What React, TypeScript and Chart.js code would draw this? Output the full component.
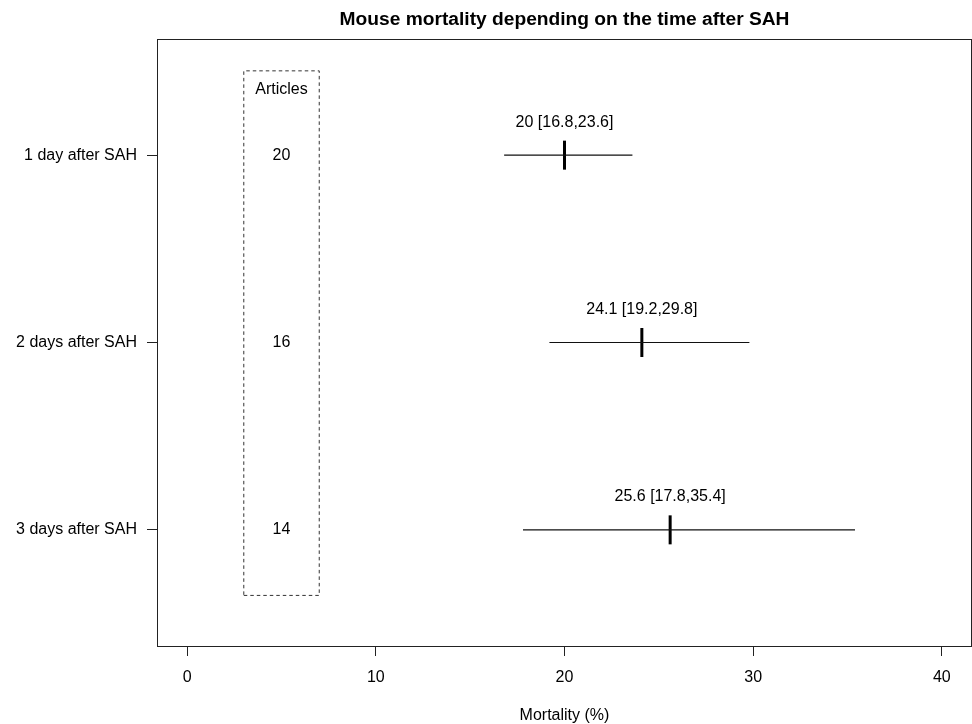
import React, { useEffect, useRef } from "react";
import { Chart, registerables } from "chart.js";

Chart.register(...registerables);

const categories = ["1 day after SAH", "2 days after SAH", "3 days after SAH"];
const estimates = [20, 24.1, 25.6];
const lowerCI = [16.8, 19.2, 17.8];
const upperCI = [23.6, 29.8, 35.4];
const articleCounts = [20, 16, 14];
const xTicks = [0, 10, 20, 30, 40];
const rowValues = [3, 2, 1];

const boxLeft = 3;
const boxRight = 7;
const boxBottom = 0.65;
const boxTop = 3.45;
const articlesHeaderY = 3.35;
const labelOffset = 0.175;

const FONT = "'Liberation Sans', Arial, Helvetica, sans-serif";
const BASE = 16;

export default function App() {
  const ref = useRef<HTMLCanvasElement | null>(null);

  useEffect(() => {
    if (!ref.current) return;

    const ciDatasets = categories.map((c, i) => ({
      label: c + " CI",
      data: [
        { x: lowerCI[i], y: rowValues[i] },
        { x: upperCI[i], y: rowValues[i] },
      ],
      showLine: true,
      borderColor: "#111",
      borderWidth: 1.2,
      pointRadius: 0,
    }));

    const estDataset = {
      label: "estimate",
      data: estimates.map((e, i) => ({ x: e, y: rowValues[i] })),
      showLine: false,
      pointStyle: "line",
      rotation: 90,
      pointRadius: 14.5,
      pointBorderWidth: 3,
      pointBorderColor: "#000",
      pointBackgroundColor: "#000",
    };

    const boxDataset = {
      label: "box",
      data: [
        { x: boxLeft, y: boxBottom },
        { x: boxRight, y: boxBottom },
        { x: boxRight, y: boxTop },
        { x: boxLeft, y: boxTop },
        { x: boxLeft, y: boxBottom },
      ],
      showLine: true,
      borderColor: "#333",
      borderWidth: 1,
      borderDash: [3.5, 3],
      pointRadius: 0,
      tension: 0,
    };

    const textPlugin = {
      id: "texts",
      afterDatasetsDraw(chart: any) {
        const { ctx, chartArea, scales } = chart;
        const xs = scales.x;
        const ys = scales.y;
        ctx.save();
        ctx.strokeStyle = "#222";
        ctx.lineWidth = 1;
        ctx.strokeRect(
          Math.round(chartArea.left) + 0.5,
          Math.round(chartArea.top) + 0.5,
          Math.round(chartArea.right - chartArea.left) - 1,
          Math.round(chartArea.bottom - chartArea.top)
        );
        ctx.fillStyle = "#000";
        ctx.textAlign = "center";
        ctx.textBaseline = "middle";
        ctx.font = `${BASE}px ${FONT}`;
        const mid = xs.getPixelForValue((boxLeft + boxRight) / 2);
        ctx.fillText("Articles", mid, ys.getPixelForValue(articlesHeaderY));
        articleCounts.forEach((n, i) => {
          ctx.fillText(String(n), mid, ys.getPixelForValue(rowValues[i]));
        });
        estimates.forEach((e, i) => {
          ctx.fillText(
            `${e} [${lowerCI[i]},${upperCI[i]}]`,
            xs.getPixelForValue(e),
            ys.getPixelForValue(rowValues[i] + labelOffset)
          );
        });
        const cx = (chartArea.left + chartArea.right) / 2;
        ctx.fillText("Mortality (%)", cx, 716);
        ctx.font = `bold 19.2px ${FONT}`;
        ctx.fillText("Mouse mortality depending on the time after SAH", cx, 20);
        ctx.restore();
      },
    };

    const chart = new Chart(ref.current, {
      type: "scatter",
      data: { datasets: [...ciDatasets, estDataset, boxDataset] as any },
      options: {
        animation: false,
        responsive: false,
        devicePixelRatio: 1,
        layout: { autoPadding: false, padding: { top: 39, right: 0, left: 0, bottom: 0 } },
        plugins: { legend: { display: false }, tooltip: { enabled: false }, title: { display: false } },
        scales: {
          x: {
            type: "linear",
            min: -1.6,
            max: 41.6,
            afterBuildTicks: (s: any) => {
              s.ticks = xTicks.map((v) => ({ value: v }));
            },
            afterFit: (s: any) => {
              s.height = 78;
              s.paddingLeft = 0;
              s.paddingRight = 0;
            },
            border: { display: false },
            grid: { display: true, drawOnChartArea: false, drawTicks: true, tickLength: 10, color: "#222", lineWidth: 1 },
            ticks: { color: "#000", font: { family: FONT, size: BASE }, padding: 12, maxRotation: 0, autoSkip: false },
          },
          y: {
            type: "linear",
            min: 0.38,
            max: 3.62,
            afterBuildTicks: (s: any) => {
              s.ticks = rowValues.map((v) => ({ value: v }));
            },
            afterFit: (s: any) => {
              s.width = 157;
              s.paddingTop = 0;
              s.paddingBottom = 0;
            },
            border: { display: false },
            grid: { display: true, drawOnChartArea: false, drawTicks: true, tickLength: 10, color: "#222", lineWidth: 1 },
            ticks: {
              color: "#000",
              font: { family: FONT, size: BASE },
              padding: 10,
              autoSkip: false,
              callback: (v: any) => {
                const idx = rowValues.indexOf(Number(v));
                return idx >= 0 ? categories[idx] : "";
              },
            },
          },
        },
      },
      plugins: [textPlugin],
    } as any);

    return () => chart.destroy();
  }, []);

  return (
    <div style={{ position: "absolute", left: 0, top: 0, width: 972, height: 724, background: "#fff" }}>
      <canvas ref={ref} width={972} height={724} style={{ display: "block", width: 972, height: 724 }} />
    </div>
  );
}
